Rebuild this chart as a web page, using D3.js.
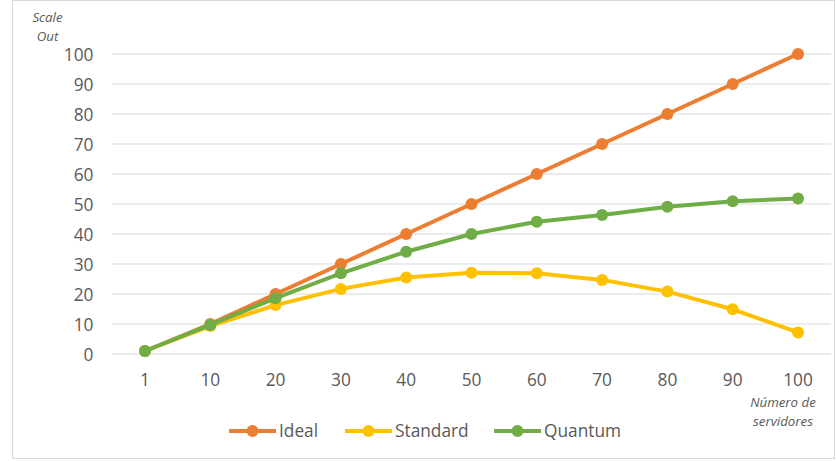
<!DOCTYPE html>
<html><head><meta charset="utf-8">
<script src="https://cdn.jsdelivr.net/npm/d3@7"></script>
<style>body{margin:0;background:#fff;} svg{display:block;font-family:"Open Sans","Liberation Sans",sans-serif;}</style>
</head><body><svg id="c" width="836" height="461"></svg>
<script>
const categories = ["1","10","20","30","40","50","60","70","80","90","100"];
const ideal = [1,10,20,30,40,50,60,70,80,90,100];
const standard = [1,9.3,16.3,21.7,25.5,27.1,26.9,24.7,20.8,14.9,7.2];
const quantum = [1,9.7,18.6,26.9,34.1,40,44.1,46.3,49.1,50.9,51.8];
const yTicks = [0,10,20,30,40,50,60,70,80,90,100];
const seriesNames = ["Ideal","Standard","Quantum"];
const colors = ["#ED7D31","#FFC000","#70AD47"];

const svg = d3.select("#c");
svg.append("rect").attr("x",12.5).attr("y",0.5).attr("width",822).attr("height",458).attr("fill","#fff").attr("stroke","#d9d9d9");

const x = d3.scaleBand().domain(categories).range([112.35,830.65]);
const y = d3.scaleLinear().domain([0,100]).range([354,54]);

const grid = svg.append("g");
grid.selectAll("line").data(yTicks).join("line")
  .attr("x1",112).attr("x2",831).attr("y1",d=>y(d)).attr("y2",d=>y(d))
  .attr("stroke","#d9d9d9").attr("stroke-width",1);

const yAxis = d3.axisLeft(y).tickValues(yTicks).tickSize(0).tickPadding(0);
const gy = svg.append("g").attr("transform","translate(93.5,0)").call(yAxis);
gy.select(".domain").remove();
gy.selectAll("text").attr("fill","#595959").style("font-size","17.3px").style("font-family","'Open Sans'").attr("dy","0.35em");

const xAxis = d3.axisBottom(x).tickSize(0).tickPadding(0);
const gx = svg.append("g").attr("transform","translate(0,380)").call(xAxis);
gx.select(".domain").remove();
gx.selectAll("text").attr("fill","#595959").style("font-size","17.3px").style("font-family","'Open Sans'").attr("dy","0.35em");

const data = [ideal, standard, quantum];
const line = d3.line().x((d,i)=>x(categories[i])+x.bandwidth()/2).y(d=>y(d));
data.forEach((vals,si)=>{
  svg.append("path").datum(vals).attr("d",line).attr("fill","none")
    .attr("stroke",colors[si]).attr("stroke-width",4).attr("stroke-linejoin","round");
  svg.append("g").selectAll("circle").data(vals).join("circle")
    .attr("cx",(d,i)=>x(categories[i])+x.bandwidth()/2).attr("cy",d=>y(d)).attr("r",6)
    .attr("fill",colors[si]);
});

// axis titles
const t1 = svg.append("text").attr("fill","#595959").style("font-size","13.3px").style("font-style","italic").attr("text-anchor","middle");
t1.append("tspan").attr("x",47.5).attr("y",22).text("Scale");
t1.append("tspan").attr("x",47.5).attr("y",41).text("Out");
const t2 = svg.append("text").attr("fill","#595959").style("font-size","13.3px").style("font-style","italic").attr("text-anchor","middle");
t2.append("tspan").attr("x",783).attr("y",407).text("Número de");
t2.append("tspan").attr("x",783).attr("y",426).text("servidores");

// legend
const legX = [229,345,494];
const lg = svg.append("g");
seriesNames.forEach((n,i)=>{
  const g = lg.append("g").attr("transform",`translate(${legX[i]},431)`);
  g.append("line").attr("x1",0).attr("x2",47).attr("y1",0).attr("y2",0).attr("stroke",colors[i]).attr("stroke-width",4);
  g.append("circle").attr("cx",23.5).attr("cy",0).attr("r",6).attr("fill",colors[i]);
  g.append("text").attr("x",50).attr("y",0).attr("dy","0.35em").attr("fill","#595959").style("font-size","17.3px").text(n);
});
</script></body></html>
